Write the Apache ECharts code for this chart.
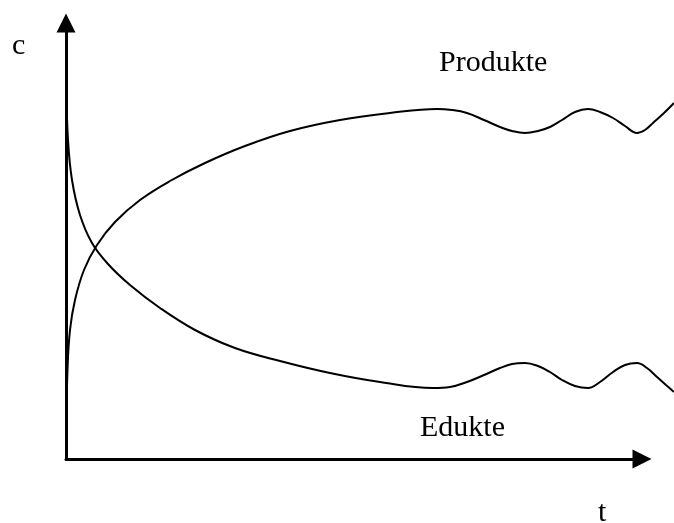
<!DOCTYPE html>
<html>
<head>
<meta charset="utf-8">
<script src="https://cdn.jsdelivr.net/npm/echarts@6/dist/echarts.min.js"></script>
<style>
html, body { margin: 0; padding: 0; background: #fff; }
#chart { width: 674px; height: 523px; }
</style>
</head>
<body>
<div id="chart"></div>
<script>
// Kurven als [t, c] (Einheiten ~ Pixel ab Ursprung)
var edukte = [
    [0.5, 367], [2, 319], [6, 279], [14, 244], [26, 216], [42, 195],
    [64, 174], [94, 151], [129, 129], [169, 111], [214, 98], [264, 86],
    [314, 77], [367, 71], [384, 72], [401, 77], [418, 84], [434, 91],
    [446, 95], [459, 96], [472, 93], [484, 87], [496, 79], [509, 73],
    [522, 71], [534, 77], [547, 87], [559, 94], [571, 96], [581, 91],
    [591, 82], [600, 74], [608, 67]
];
var produkte = [
    [0.5, 39], [1.5, 89], [4, 129], [9, 159], [18, 189], [31, 214],
    [49, 237], [74, 259], [104, 278], [139, 296], [179, 313], [224, 328],
    [274, 339], [324, 346], [371, 350], [386, 349], [401, 346], [418, 339],
    [434, 332], [446, 328], [459, 326], [472, 328], [484, 332], [496, 339],
    [509, 347], [522, 350], [534, 347], [547, 341], [559, 333], [571, 326],
    [579, 329], [587, 336], [598, 346], [608, 356]
];
var tMax = 576;   // Ende der sichtbaren t-Achse
var tData = 608;  // Kurven laufen bis zum Bildrand
var cMax = 436;

var chart = echarts.init(document.getElementById('chart'));
var font = 'Liberation Serif, Times New Roman, serif';

var hidden = {
    type: 'value',
    show: false,
    splitLine: { show: false }
};
var arrowLine = {
    show: true,
    symbol: ['none', 'triangle'],
    symbolSize: [19, 19],
    lineStyle: { color: '#000', width: 3 }
};

var option = {
    backgroundColor: '#fff',
    animation: false,
    grid: [
        { left: 66, right: 32, top: 23, bottom: 64 },
        { left: 66, right: 0, top: 23, bottom: 64 }
    ],
    xAxis: [
        { type: 'value', gridIndex: 0, min: 0, max: tMax, splitLine: { show: false },
          axisTick: { show: false }, axisLabel: { show: false }, axisLine: arrowLine },
        Object.assign({ gridIndex: 1, min: 0, max: tData }, hidden)
    ],
    yAxis: [
        { type: 'value', gridIndex: 0, min: 0, max: cMax, splitLine: { show: false },
          axisTick: { show: false }, axisLabel: { show: false }, axisLine: arrowLine },
        Object.assign({ gridIndex: 1, min: 0, max: cMax }, hidden)
    ],
    series: [
        {
            name: 'Edukte',
            type: 'line',
            xAxisIndex: 1,
            yAxisIndex: 1,
            data: edukte,
            smooth: 0.4,
            showSymbol: false,
            clip: false,
            lineStyle: { color: '#000', width: 2 }
        },
        {
            name: 'Produkte',
            type: 'line',
            xAxisIndex: 1,
            yAxisIndex: 1,
            data: produkte,
            smooth: 0.4,
            showSymbol: false,
            clip: false,
            lineStyle: { color: '#000', width: 2 }
        }
    ],
    graphic: [
        { type: 'text', left: 12, top: 31, style: { text: 'c', font: '30px ' + font, fill: '#000' } },
        { type: 'text', left: 439, top: 48, style: { text: 'Produkte', font: '30px ' + font, fill: '#000' } },
        { type: 'text', left: 420, top: 413, style: { text: 'Edukte', font: '30px ' + font, fill: '#000' } },
        { type: 'text', left: 598, top: 498, style: { text: 't', font: '30px ' + font, fill: '#000' } }
    ]
};

chart.setOption(option);
</script>
</body>
</html>
